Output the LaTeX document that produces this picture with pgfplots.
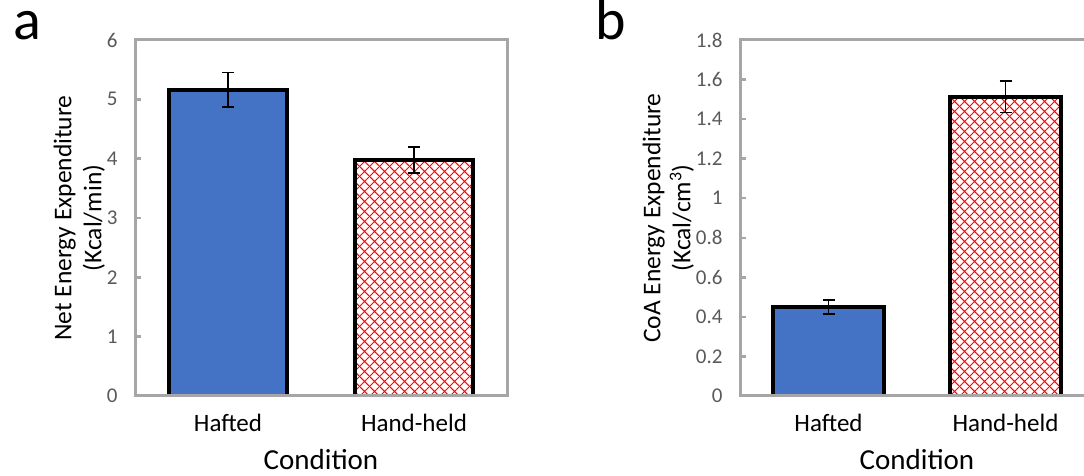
\documentclass[border=0pt]{standalone}
\usepackage{fontspec}
\setmainfont{Carlito}
\usepackage{pgfplots}
\pgfplotsset{compat=1.18}
\usetikzlibrary{patterns.meta}

\definecolor{barblue}{HTML}{4472C4}
\definecolor{framegray}{HTML}{A6A6A6}
\definecolor{ticktext}{HTML}{595959}

% red diamond hatch for the hand-held bars
\pgfdeclarepattern{
  name=diamondhatch,
  type=uncolored,
  bottom left={\pgfpoint{0pt}{0pt}},
  top right={\pgfpoint{10pt}{10pt}},
  tile size={\pgfpoint{10pt}{10pt}},
  code={
    \pgfsetlinewidth{1.05pt}
    \pgfpathmoveto{\pgfpoint{-1pt}{-1pt}}
    \pgfpathlineto{\pgfpoint{11pt}{11pt}}
    \pgfpathmoveto{\pgfpoint{-1pt}{11pt}}
    \pgfpathlineto{\pgfpoint{11pt}{-1pt}}
    \pgfusepath{stroke}
  }
}

\pgfplotsset{
  panel/.style={
    scale only axis,
    height=356pt,
    ymin=0,
    xmin=-0.5, xmax=1.5,
    xtick={0,1},
    xticklabels={Hafted,Hand-held},
    axis line style={draw=framegray, line width=3pt},
    ytick pos=left,
    tick align=inside,
    major tick length=6pt,
    ytick style={draw=framegray, line width=2.5pt},
    xtick style={draw=none},
    /pgf/number format/assume math mode=true,
    yticklabel style={font=\fontsize{21}{24}\selectfont, text=ticktext, xshift=-14pt},
    xticklabel style={font=\fontsize{25}{28}\selectfont, text=black, yshift=-15pt},
    ylabel style={font=\fontsize{25.5}{30}\selectfont, align=center, yshift=-5pt},
    xlabel style={font=\fontsize{29}{33}\selectfont, yshift=-10pt},
    xlabel={Condition},
    axis on top,
    bar width=0.63,
    error bars/error bar style={black, line width=1.6pt},
    error bars/error mark options={rotate=90, mark size=6pt, line width=1.6pt, black},
  },
  solidbar/.style={ybar, bar shift=0pt, fill=barblue, draw=black, line width=4pt,
    error bars/.cd, y dir=both, y explicit},
  hatchbar/.style={ybar, bar shift=0pt, draw=black, line width=4pt,
    postaction={pattern=diamondhatch, pattern color=red},
    error bars/.cd, y dir=both, y explicit},
}

\begin{document}
\begin{tikzpicture}
% panel a: net energy expenditure
\begin{axis}[panel,
  at={(135pt,80pt)}, anchor=south west,
  width=372pt,
  ymax=6, ytick={0,1,2,3,4,5,6},
  ylabel={Net Energy Expenditure\\(Kcal/min)},
]
\addplot[solidbar] coordinates {(0,5.16) +- (0,0.29)};
\addplot[hatchbar] coordinates {(1,3.98) +- (0,0.22)};
\end{axis}

% panel b: cost of acquisition
\begin{axis}[panel,
  at={(740pt,80pt)}, anchor=south west,
  width=354pt,
  ymax=1.8, ytick={0,0.2,0.4,0.6,0.8,1,1.2,1.4,1.6,1.8},
  yticklabel style={/pgf/number format/fixed},
  ylabel={CoA Energy Expenditure\\(Kcal/cm\textsuperscript{3})},
]
\addplot[solidbar] coordinates {(0,0.45) +- (0,0.034)};
\addplot[hatchbar] coordinates {(1,1.513) +- (0,0.08)};
\end{axis}

\node[font=\fontsize{58}{58}\selectfont, anchor=base west, inner sep=0pt] at (13pt,436pt) {a};
\node[font=\fontsize{58}{58}\selectfont, anchor=base west, inner sep=0pt] at (595pt,436pt) {b};

\pgfresetboundingbox
\useasboundingbox (0,0) rectangle (1084pt,476pt);
\end{tikzpicture}
\end{document}
